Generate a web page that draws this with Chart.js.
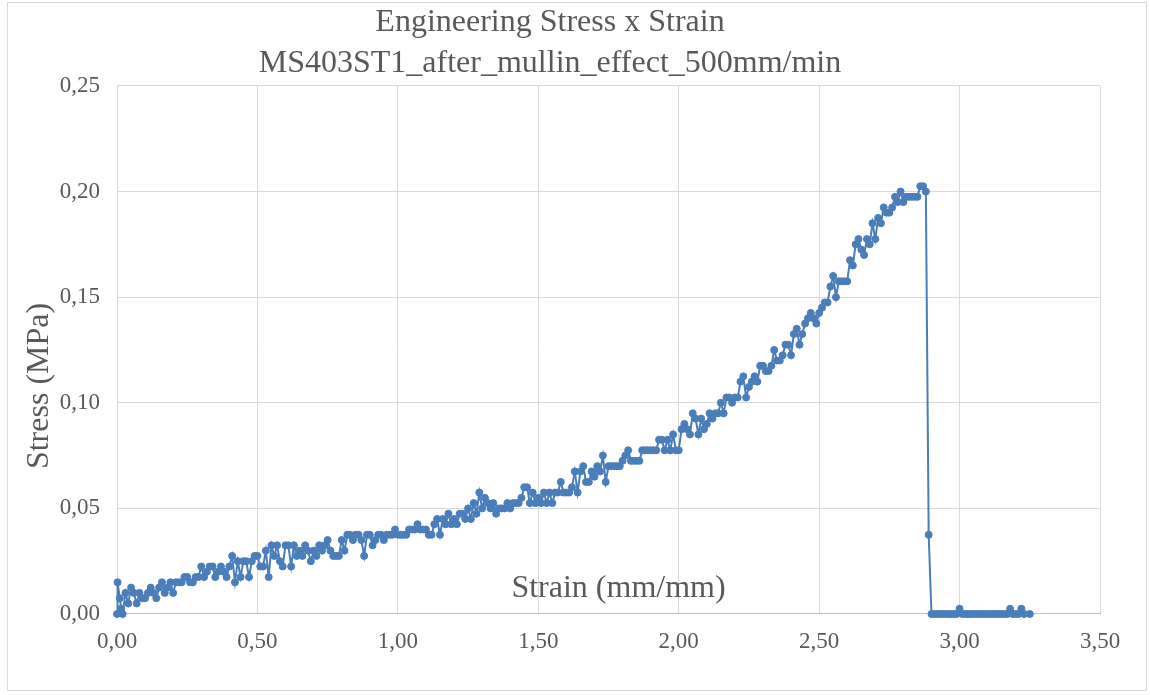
<!DOCTYPE html>
<html lang="en">
  <head>
    <meta charset="UTF-8" />
    <title>Engineering Stress x Strain</title>
    <script src="https://cdn.jsdelivr.net/npm/chart.js"></script>
    <style>
      html, body { margin: 0; padding: 0; background: #ffffff; }
      #wrap { width: 1150px; height: 695px; }
    </style>
  </head>
  <body>
    <div id="wrap"><canvas id="stressChart"></canvas></div>
    <script>
      // strain (mm/mm) and engineering stress (MPa), one sample per point
      const strain = [
        0, 0.002, 0.01, 0.015, 0.02, 0.03, 0.04, 0.05, 0.06, 0.07, 0.08, 0.09,
        0.10, 0.11, 0.12, 0.13, 0.14, 0.15, 0.16, 0.17, 0.18, 0.19,
        0.20, 0.21, 0.22, 0.23, 0.24, 0.25, 0.26, 0.27, 0.28, 0.29,
        0.30, 0.31, 0.32, 0.33, 0.34, 0.35, 0.36, 0.37, 0.38, 0.39,
        0.40, 0.41, 0.42, 0.43, 0.44, 0.45, 0.46, 0.47, 0.48, 0.49,
        0.50, 0.51, 0.52, 0.53, 0.54, 0.55, 0.56, 0.57, 0.58, 0.59,
        0.60, 0.61, 0.62, 0.63, 0.64, 0.65, 0.66, 0.67, 0.68, 0.69,
        0.70, 0.71, 0.72, 0.73, 0.74, 0.75, 0.76, 0.77, 0.78, 0.79,
        0.80, 0.81, 0.82, 0.83, 0.84, 0.85, 0.86, 0.87, 0.88, 0.89,
        0.90, 0.91, 0.92, 0.93, 0.94, 0.95, 0.96, 0.97, 0.98, 0.99,
        1.00, 1.01, 1.02, 1.03, 1.04, 1.05, 1.06, 1.07, 1.08, 1.09,
        1.10, 1.11, 1.12, 1.13, 1.14, 1.15, 1.16, 1.17, 1.18, 1.19,
        1.20, 1.21, 1.22, 1.23, 1.24, 1.25, 1.26, 1.27, 1.28, 1.29,
        1.30, 1.31, 1.32, 1.33, 1.34, 1.35, 1.36, 1.37, 1.38, 1.39,
        1.40, 1.41, 1.42, 1.43, 1.44, 1.45, 1.46, 1.47, 1.48, 1.49,
        1.50, 1.51, 1.52, 1.53, 1.54, 1.55, 1.56, 1.57, 1.58, 1.59,
        1.60, 1.61, 1.62, 1.63, 1.64, 1.65, 1.66, 1.67, 1.68, 1.69,
        1.70, 1.71, 1.72, 1.73, 1.74, 1.75, 1.76, 1.77, 1.78, 1.79,
        1.80, 1.81, 1.82, 1.83, 1.84, 1.85, 1.86, 1.87, 1.88, 1.89,
        1.90, 1.91, 1.92, 1.93, 1.94, 1.95, 1.96, 1.97, 1.98, 1.99,
        2.00, 2.01, 2.02, 2.03, 2.04, 2.05, 2.06, 2.07, 2.08, 2.09,
        2.10, 2.11, 2.12, 2.13, 2.14, 2.15, 2.16, 2.17, 2.18, 2.19,
        2.20, 2.21, 2.22, 2.23, 2.24, 2.25, 2.26, 2.27, 2.28, 2.29,
        2.30, 2.31, 2.32, 2.33, 2.34, 2.35, 2.36, 2.37, 2.38, 2.39,
        2.40, 2.41, 2.42, 2.43, 2.44, 2.45, 2.46, 2.47, 2.48, 2.49,
        2.50, 2.51, 2.52, 2.53, 2.54, 2.55, 2.56, 2.57, 2.58, 2.59,
        2.60, 2.61, 2.62, 2.63, 2.64, 2.65, 2.66, 2.67, 2.68, 2.69,
        2.70, 2.71, 2.72, 2.73, 2.74, 2.75, 2.76, 2.77, 2.78, 2.79,
        2.80, 2.81, 2.82, 2.83, 2.84, 2.85, 2.86, 2.87, 2.88, 2.89,
        2.90, 2.91, 2.92, 2.93, 2.94, 2.95, 2.96, 2.97, 2.98, 2.99,
        3.00, 3.01, 3.02, 3.03, 3.04, 3.05, 3.06, 3.07, 3.08, 3.09,
        3.10, 3.11, 3.12, 3.13, 3.14, 3.15, 3.16, 3.17, 3.18, 3.19,
        3.20, 3.21, 3.22, 3.23, 3.25
      ];

      const stress = [
        0, 0.015, 0.0075, 0.0025, 0, 0.01, 0.005, 0.0125, 0.01, 0.005, 0.01, 0.0075,
        0.0075, 0.0100, 0.0125, 0.0100, 0.0075, 0.0125, 0.0150, 0.0100, 0.0125, 0.0150,
        0.0100, 0.0150, 0.0150, 0.0150, 0.0175, 0.0175, 0.0150, 0.0150, 0.0175, 0.0175,
        0.0225, 0.0175, 0.0200, 0.0225, 0.0225, 0.0175, 0.0200, 0.0225, 0.0200, 0.0175,
        0.0225, 0.0275, 0.0150, 0.0250, 0.0175, 0.0250, 0.0250, 0.0175, 0.0250, 0.0275,
        0.0275, 0.0225, 0.0225, 0.0300, 0.0175, 0.0325, 0.0275, 0.0325, 0.0250, 0.0225,
        0.0325, 0.0325, 0.0225, 0.0325, 0.0275, 0.0300, 0.0275, 0.0325, 0.0300, 0.0250,
        0.0300, 0.0275, 0.0325, 0.0300, 0.0325, 0.0350, 0.0300, 0.0275, 0.0275, 0.0275,
        0.0350, 0.0300, 0.0375, 0.0375, 0.0350, 0.0375, 0.0375, 0.0350, 0.0275, 0.0375,
        0.0375, 0.0325, 0.0350, 0.0375, 0.0375, 0.0350, 0.0375, 0.0375, 0.0375, 0.0400,
        0.0375, 0.0375, 0.0375, 0.0375, 0.0400, 0.0400, 0.0400, 0.0425, 0.0400, 0.0400,
        0.0400, 0.0375, 0.0375, 0.0425, 0.0450, 0.0375, 0.0450, 0.0425, 0.0475, 0.0425,
        0.0450, 0.0425, 0.0475, 0.0475, 0.0450, 0.0500, 0.0450, 0.0525, 0.0475, 0.0575,
        0.0500, 0.0550, 0.0525, 0.0500, 0.0525, 0.0475, 0.0500, 0.0500, 0.0500, 0.0525,
        0.0500, 0.0525, 0.0525, 0.0525, 0.0550, 0.0600, 0.0600, 0.0525, 0.0575, 0.0525,
        0.0550, 0.0525, 0.0575, 0.0525, 0.0575, 0.0525, 0.0575, 0.0575, 0.0625, 0.0575,
        0.0575, 0.0575, 0.0600, 0.0675, 0.0575, 0.0675, 0.0700, 0.0625, 0.0625, 0.0675,
        0.0650, 0.0700, 0.0675, 0.0750, 0.0625, 0.0700, 0.0700, 0.0700, 0.0700, 0.0700,
        0.0725, 0.0750, 0.0775, 0.0725, 0.0725, 0.0725, 0.0725, 0.0775, 0.0775, 0.0775,
        0.0775, 0.0775, 0.0775, 0.0825, 0.0825, 0.0775, 0.0825, 0.0775, 0.0850, 0.0775,
        0.0775, 0.0875, 0.0900, 0.0875, 0.0850, 0.0950, 0.0925, 0.0850, 0.0925, 0.0875,
        0.0900, 0.0950, 0.0925, 0.0950, 0.0950, 0.1000, 0.0950, 0.1025, 0.1025, 0.1000,
        0.1025, 0.1025, 0.1100, 0.1125, 0.1025, 0.1075, 0.1100, 0.1125, 0.1100, 0.1175,
        0.1175, 0.1150, 0.1150, 0.1175, 0.1250, 0.1200, 0.1200, 0.1225, 0.1275, 0.1275,
        0.1225, 0.1325, 0.1350, 0.1275, 0.1325, 0.1375, 0.1400, 0.1425, 0.1400, 0.1375,
        0.1425, 0.1450, 0.1475, 0.1475, 0.1550, 0.1600, 0.1500, 0.1575, 0.1575, 0.1575,
        0.1575, 0.1675, 0.1650, 0.1750, 0.1775, 0.1725, 0.1700, 0.1775, 0.1750, 0.1850,
        0.1775, 0.1875, 0.1850, 0.1925, 0.1900, 0.1900, 0.1925, 0.1975, 0.1950, 0.2000,
        0.1950, 0.1975, 0.1975, 0.1975, 0.1975, 0.1975, 0.2025, 0.2025, 0.2000, 0.0375,
        0, 0, 0, 0, 0, 0, 0, 0, 0, 0,
        0.0025, 0, 0, 0, 0, 0, 0, 0, 0, 0,
        0, 0, 0, 0, 0, 0, 0, 0, 0.0025, 0,
        0, 0, 0.0025, 0, 0
      ];

      const xTicks = [0, 0.5, 1, 1.5, 2, 2.5, 3, 3.5];
      const yTicks = [0, 0.05, 0.1, 0.15, 0.2, 0.25];

      const chartTitle = ["Engineering Stress x Strain", "MS403ST1_after_mullin_effect_500mm/min"];
      const xTitle = "Strain (mm/mm)";
      const yTitle = "Stress (MPa)";

      const textColor = "#595959";
      const seriesColor = "#4a7ebb";
      const serif = "'Liberation Serif', 'Times New Roman', serif";

      const points = strain.map((s, i) => ({ x: s, y: stress[i] }));

      // comma decimal, two places
      const fmt = (v) => v.toFixed(2).replace(".", ",");

      // chart frame plus the two axis captions
      const chartDecor = {
        id: "chartDecor",
        beforeDraw(chart) {
          const ctx = chart.ctx;
          ctx.save();
          ctx.fillStyle = "#ffffff";
          ctx.fillRect(0, 0, chart.width, chart.height);
          ctx.strokeStyle = "#d9d9d9";
          ctx.lineWidth = 1;
          ctx.strokeRect(7.5, 2.5, 1139, 688);
          ctx.restore();
        },
        afterDraw(chart) {
          const ctx = chart.ctx;
          const area = chart.chartArea;
          ctx.save();
          ctx.fillStyle = textColor;
          ctx.font = "32px " + serif;
          ctx.textAlign = "center";
          ctx.textBaseline = "middle";
          ctx.fillText(xTitle, (area.left + area.right) / 2 + 10, area.bottom - 25);
          ctx.translate(40, (area.top + area.bottom) / 2 + 36);
          ctx.rotate(-Math.PI / 2);
          ctx.fillText(yTitle, 0, 0);
          ctx.restore();
        },
      };

      const ctx = document.getElementById("stressChart");
      new Chart(ctx, {
        type: "scatter",
        data: {
          datasets: [
            {
              data: points,
              showLine: true,
              clip: false,
              borderColor: seriesColor,
              backgroundColor: seriesColor,
              borderWidth: 2,
              pointRadius: 3.5,
              pointBorderWidth: 1,
              pointBorderColor: seriesColor,
              pointBackgroundColor: seriesColor,
            },
          ],
        },
        options: {
          responsive: true,
          maintainAspectRatio: false,
          animation: false,
          layout: { padding: { left: 0, right: 50, top: 0, bottom: 0 } },
          plugins: {
            legend: { display: false },
            tooltip: { enabled: false },
            title: {
              display: true,
              text: chartTitle,
              color: textColor,
              font: { family: serif, size: 32, weight: "normal", lineHeight: 1.28 },
              padding: { top: 2, bottom: 2 },
            },
          },
          scales: {
            x: {
              type: "linear",
              min: xTicks[0],
              max: xTicks[xTicks.length - 1],
              afterFit: (scale) => { scale.height = 81; },
              afterBuildTicks: (scale) => { scale.ticks = xTicks.map((v) => ({ value: v })); },
              grid: { color: "#d9d9d9", drawTicks: false },
              border: { color: "#bfbfbf", width: 1 },
              ticks: {
                padding: 14,
                color: textColor,
                font: { family: serif, size: 23 },
                callback: (v) => fmt(v),
              },
            },
            y: {
              type: "linear",
              min: yTicks[0],
              max: yTicks[yTicks.length - 1],
              afterFit: (scale) => { scale.width = 117; },
              afterBuildTicks: (scale) => { scale.ticks = yTicks.map((v) => ({ value: v })); },
              grid: { color: "#d9d9d9", drawTicks: false },
              border: { color: "#d9d9d9", width: 1 },
              ticks: {
                padding: 17,
                color: textColor,
                font: { family: serif, size: 23 },
                callback: (v) => fmt(v),
              },
            },
          },
        },
        plugins: [chartDecor],
      });
    </script>
  </body>
</html>
